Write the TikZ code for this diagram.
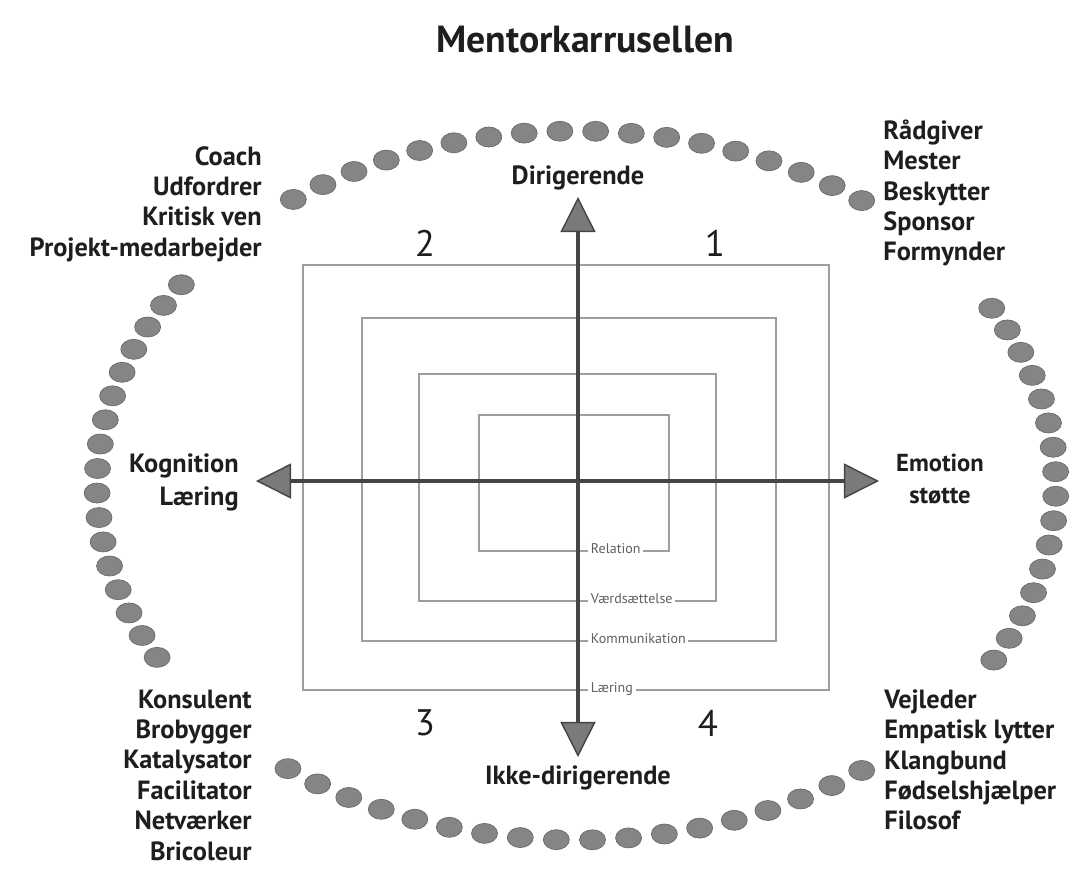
\documentclass[tikz,border=0pt]{standalone}
\usepackage{fontspec}
\setmainfont{PT Sans}
\usetikzlibrary{arrows.meta}
\definecolor{dotfill}{HTML}{858585}
\definecolor{dotedge}{HTML}{6A6A6A}
\definecolor{boxline}{HTML}{9E9E9E}
\definecolor{axisc}{HTML}{454545}
\definecolor{headfill}{HTML}{7A7A7A}
\definecolor{txt}{HTML}{1E1E1E}
\definecolor{smalltxt}{HTML}{606060}
\begin{document}
\begin{tikzpicture}[x=0.02cm,y=-0.02cm,
  dotmark/.style={fill=dotfill,draw=dotedge,line width=0.4pt},
  box/.style={draw=boxline,line width=1.2pt},
  lbl/.style={font=\bfseries\fontsize{15}{17.3}\selectfont,text=txt,inner sep=0pt},
  title/.style={font=\bfseries\fontsize{21.5}{25}\selectfont,text=txt,inner sep=0pt},
  num/.style={font=\fontsize{21}{25}\selectfont,text=txt,inner sep=0pt},
  tiny/.style={font=\fontsize{8}{9.5}\selectfont,text=smalltxt,fill=white,inner sep=1.5pt},
  axisline/.style={draw=axisc,line width=2.6pt,
    arrows={Triangle[length=20pt,width=20pt,fill=headfill,color=axisc,line width=0.8pt]-Triangle[length=20pt,width=20pt,fill=headfill,color=axisc,line width=0.8pt]}}
]
\useasboundingbox (0,0) rectangle (1074,869);
\fill[white] (0,0) rectangle (1074,869);

% dots: top arc
\foreach \i in {0,...,17} {
  \pgfmathsetmacro\t{53.5+\i*(126.2-53.5)/17}
  \path[dotmark] ({576.5+479.5*cos(\t)},{485.5-354.5*sin(\t)}) ellipse [x radius=0.26cm, y radius=0.2cm];
}
% right arc
\foreach \i in {0,...,15} {
  \pgfmathsetmacro\t{30-\i*59.5/15}
  \path[dotmark] ({576.5+479.5*cos(\t)},{485.5-354.5*sin(\t)}) ellipse [x radius=0.26cm, y radius=0.2cm];
}
% left arc
\foreach \i in {0,...,16} {
  \pgfmathsetmacro\t{145.5+\i*63.5/16}
  \path[dotmark] ({576.5+479.5*cos(\t)},{485.5-354.5*sin(\t)}) ellipse [x radius=0.26cm, y radius=0.2cm];
}
% bottom arc
\foreach \i in {0,...,17} {
  \pgfmathsetmacro\t{233.0+\i*(306.5-233.0)/17}
  \path[dotmark] ({576.5+479.5*cos(\t)},{485.5-354.5*sin(\t)}) ellipse [x radius=0.26cm, y radius=0.2cm];
}

% nested rectangles
\draw[box] (303,265) rectangle (829,690);
\draw[box] (362,318) rectangle (776,641);
\draw[box] (419,374) rectangle (716,601);
\draw[box] (479,415) rectangle (669,551);

% small labels on the bottom lines
\node[tiny,anchor=base west] (rel) at (588,553) {Relation};
\node[tiny,anchor=base west] (vaerd) at (588,603) {Værdsættelse};
\node[tiny,anchor=base west] (komm) at (588,643) {Kommunikation};
\node[tiny,anchor=base west] (laer) at (588,692) {Læring};

% axes
\coordinate (L) at (256,481);
\coordinate (R) at (879,481);
\coordinate (T) at (578,197);
\coordinate (B) at (578,757);
\draw[axisline] (L) -- (R);
\draw[axisline] (T) -- (B);

% title
\node[title] (ttl) at (585,40) {Mentorkarrusellen};

% axis labels
\node[lbl] (dir) at (578,178) {Dirigerende};
\node[lbl] (ikke) at (578,778) {Ikke-dirigerende};
\node[lbl,align=right,anchor=east] (kog) at (239,482) {Kognition\\[1.5pt]Læring};
\node[lbl,font=\bfseries\fontsize{14}{17}\selectfont,align=center] (emo) at (940,479) {Emotion\\[1.5pt]støtte};

% quadrant numbers
\node[num] (q1) at (715,243) {1};
\node[num] (q2) at (425,243) {2};
\node[num] (q3) at (425,723) {3};
\node[num] (q4) at (708,723) {4};

% role lists
\node[lbl,align=right,anchor=east] (tl) at (262,204) {Coach\\Udfordrer\\Kritisk ven\\Projekt-medarbejder};
\node[lbl,align=left,anchor=west] (tr) at (883,193) {Rådgiver\\Mester\\Beskytter\\Sponsor\\Formynder};
\node[lbl,align=right,anchor=east] (bl) at (252,775) {Konsulent\\Brobygger\\Katalysator\\Facilitator\\Netværker\\Bricoleur};
\node[lbl,align=left,anchor=west] (br) at (884,760) {Vejleder\\Empatisk lytter\\Klangbund\\Fødselshjælper\\Filosof};
\end{tikzpicture}
\end{document}
